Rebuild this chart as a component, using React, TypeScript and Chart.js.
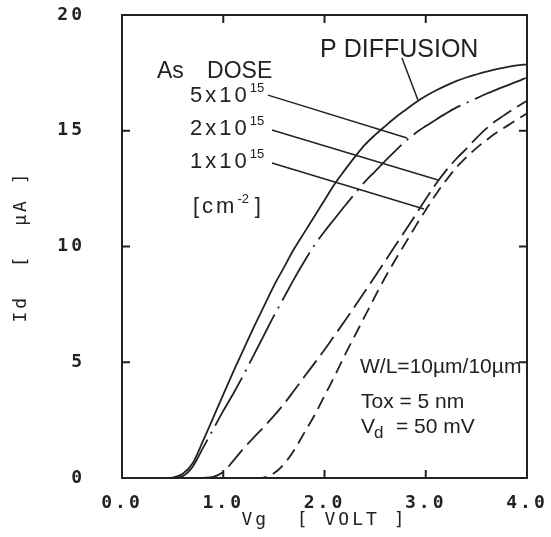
import { useEffect, useRef } from 'react';
import { Chart, registerables } from 'chart.js';

Chart.register(...registerables);

// ---- data ----
const VG = [
  0.4, 0.5, 0.6, 0.7, 0.8, 0.9, 1.0, 1.1, 1.2, 1.3, 1.4, 1.5, 1.6, 1.7, 1.8, 1.9,
  2.0, 2.1, 2.2, 2.3, 2.4, 2.5, 2.6, 2.7, 2.8, 2.9, 3.0, 3.1, 3.2, 3.3, 3.4, 3.5,
  3.6, 3.7, 3.8, 3.9, 4.0,
];
const ID_P_DIFFUSION = [
  0, 0.02, 0.18, 0.65, 1.6, 2.6, 3.6, 4.6, 5.55, 6.5, 7.4, 8.3, 9.1, 9.9, 10.6, 11.3,
  12.0, 12.7, 13.3, 13.87, 14.4, 14.82, 15.2, 15.57, 15.9, 16.22, 16.5, 16.74, 16.95, 17.14, 17.3, 17.43,
  17.55, 17.66, 17.75, 17.82, 17.87,
];
const ID_AS_5E15 = [
  null, 0, 0.08, 0.5, 1.3, 2.1, 2.9, 3.65, 4.45, 5.3, 6.15, 7.0, 7.8, 8.6, 9.35, 10.05,
  10.65, 11.2, 11.75, 12.28, 12.8, 13.25, 13.7, 14.13, 14.55, 14.9, 15.2, 15.48, 15.75, 16.0, 16.2, 16.4,
  16.6, 16.78, 16.95, 17.12, 17.3,
];
const ID_AS_2E15 = [
  null, null, null, null, 0, 0.05, 0.26, 0.75, 1.27, 1.74, 2.2, 2.68, 3.2, 3.78, 4.37, 4.95,
  5.54, 6.16, 6.78, 7.42, 8.07, 8.72, 9.38, 10.04, 10.7, 11.37, 12.05, 12.7, 13.28, 13.78, 14.22, 14.68,
  15.1, 15.45, 15.75, 16.03, 16.3,
];
const ID_AS_1E15 = [
  null, null, null, null, null, null, null, null, null, 0, 0.02, 0.2, 0.6, 1.2, 1.95, 2.7,
  3.55, 4.4, 5.3, 6.15, 7.0, 7.85, 8.67, 9.43, 10.15, 10.88, 11.58, 12.25, 12.85, 13.4, 13.85, 14.25,
  14.6, 14.92, 15.2, 15.48, 15.75,
];
const X_TICKS = [0, 1, 2, 3, 4];
const Y_TICKS = [0, 5, 10, 15, 20];
const DOSE_BASES = ['5x10', '2x10', '1x10'];
const DOSE_EXP = '15';

const INK = '#222';
const MONO = '"DejaVu Sans Mono", "Liberation Mono", monospace';
const SANS = '"Liberation Sans", Arial, sans-serif';

function pts(ys: (number | null)[]) {
  return VG.map((v, i) => ({ x: v, y: ys[i] }));
}

const plotPlugin = {
  id: 'plotFrame',
  beforeDraw(chart: any) {
    (chart.ctx as any).letterSpacing = '3px';
  },
  afterDraw(chart: any) {
    const { ctx, chartArea: a, scales } = chart;
    const xs = scales.x;
    const ys = scales.y;
    const px = (v: number) => xs.getPixelForValue(v);
    const py = (v: number) => ys.getPixelForValue(v);
    ctx.save();
    (ctx as any).letterSpacing = '0px';
    // frame
    ctx.strokeStyle = INK;
    ctx.lineWidth = 2;
    ctx.strokeRect(a.left, a.top, a.right - a.left, a.bottom - a.top);
    // inward ticks
    const TL = 8;
    ctx.beginPath();
    X_TICKS.slice(1, -1).forEach((t) => {
      const p = px(t);
      ctx.moveTo(p, a.bottom); ctx.lineTo(p, a.bottom - TL);
      ctx.moveTo(p, a.top); ctx.lineTo(p, a.top + TL);
    });
    Y_TICKS.slice(1, -1).forEach((t) => {
      const p = py(t);
      ctx.moveTo(a.left, p); ctx.lineTo(a.left + TL, p);
      ctx.moveTo(a.right, p); ctx.lineTo(a.right - TL, p);
    });
    ctx.stroke();

    // annotations
    ctx.fillStyle = INK;
    ctx.textAlign = 'left';
    ctx.textBaseline = 'alphabetic';
    ctx.lineWidth = 1.5;

    ctx.font = `25px ${SANS}`;
    ctx.fillText('P DIFFUSION', px(1.956), py(18.19));
    ctx.beginPath();
    ctx.moveTo(px(2.765), py(18.14)); ctx.lineTo(px(2.923), py(16.33));
    ctx.stroke();

    ctx.font = `23px ${SANS}`;
    ctx.fillText('As', px(0.346), py(17.28));
    ctx.fillText('DOSE', px(0.84), py(17.28));

    const doseY = [16.24, 14.82, 13.39];
    const pointerFrom = [[1.442, 16.54], [1.481, 15.03], [1.481, 13.61]];
    const pointerTo = [[2.815, 14.69], [3.121, 12.87], [2.983, 11.62]];
    DOSE_BASES.forEach((b, i) => {
      const x0 = px(0.672);
      const y0 = py(doseY[i]);
      ctx.font = `22px ${SANS}`;
      (ctx as any).letterSpacing = '3px';
      ctx.fillText(b, x0, y0);
      const w = ctx.measureText(b).width;
      (ctx as any).letterSpacing = '0px';
      ctx.font = `13px ${SANS}`;
      ctx.fillText(DOSE_EXP, x0 + w, y0 - 10);
      ctx.beginPath();
      ctx.moveTo(px(pointerFrom[i][0]), py(pointerFrom[i][1]));
      ctx.lineTo(px(pointerTo[i][0]), py(pointerTo[i][1]));
      ctx.stroke();
    });

    // [cm-2]
    {
      const x0 = px(0.701);
      const y0 = py(11.45);
      ctx.font = `22px ${SANS}`;
      (ctx as any).letterSpacing = '3px';
      ctx.fillText('[cm', x0, y0);
      const w = ctx.measureText('[cm').width;
      (ctx as any).letterSpacing = '0px';
      ctx.font = `13px ${SANS}`;
      ctx.fillText('-2', x0 + w, y0 - 10);
      ctx.font = `22px ${SANS}`;
      ctx.fillText(']', px(1.312), y0);
    }

    // device parameters
    ctx.font = `21px ${SANS}`;
    ctx.fillText('W/L=10µm/10µm', px(2.351), py(4.54));
    ctx.fillText('Tox = 5 nm', px(2.36), py(3.02));
    ctx.fillText('V', px(2.36), py(1.94));
    ctx.font = `17px ${SANS}`;
    ctx.fillText('d', px(2.49), py(1.94) + 5);
    ctx.font = `21px ${SANS}`;
    ctx.fillText('= 50 mV', px(2.706), py(1.94));
    ctx.restore();
  },
};

export default function App() {
  const ref = useRef<HTMLCanvasElement>(null);
  useEffect(() => {
    document.body.style.margin = '0';
    const line = (data: (number | null)[], dash: number[]) => ({
      data: pts(data),
      borderColor: INK,
      borderWidth: 1.8,
      borderDash: dash,
      pointRadius: 0,
      fill: false,
      cubicInterpolationMode: 'monotone' as const,
      spanGaps: false,
    });
    const chart = new Chart(ref.current!, {
      type: 'line',
      data: {
        datasets: [
          { label: 'P DIFFUSION', ...line(ID_P_DIFFUSION, []) },
          { label: '5x10^15', ...line(ID_AS_5E15, [55, 7, 2, 7]) },
          { label: '2x10^15', ...line(ID_AS_2E15, [22, 7]) },
          { label: '1x10^15', ...line(ID_AS_1E15, [13, 7]) },
        ],
      },
      options: {
        animation: false,
        responsive: false,
        devicePixelRatio: 1,
        layout: { padding: { left: 0, right: 24, top: 15, bottom: 0 } },
        plugins: { legend: { display: false }, tooltip: { enabled: false } },
        scales: {
          x: {
            type: 'linear',
            min: 0,
            max: 4,
            afterFit: (s: any) => {
              s.height = 59;
              s.paddingLeft = 0; s.paddingRight = 0; s.paddingTop = 0; s.paddingBottom = 0;
            },
            grid: { display: false },
            border: { display: false },
            afterBuildTicks: (s: any) => { s.ticks = X_TICKS.map((v) => ({ value: v })); },
            ticks: {
              callback: (v: any) => Number(v).toFixed(1),
              font: { family: MONO, size: 18, weight: 'bold' },
              color: INK,
              padding: 7,
              maxRotation: 0,
              autoSkip: false,
            },
            title: {
              display: true,
              text: 'Vg  [ VOLT ]',
              font: { family: MONO, size: 18 },
              color: INK,
              padding: { top: 0, bottom: 6 },
            },
          },
          y: {
            type: 'linear',
            min: 0,
            max: 20,
            afterFit: (s: any) => {
              s.width = 122;
              s.paddingLeft = 0; s.paddingRight = 0; s.paddingTop = 0; s.paddingBottom = 0;
            },
            grid: { display: false },
            border: { display: false },
            afterBuildTicks: (s: any) => { s.ticks = Y_TICKS.map((v) => ({ value: v })); },
            ticks: {
              callback: (v: any) => String(v),
              font: { family: MONO, size: 18, weight: 'bold' },
              color: INK,
              padding: 29,
              autoSkip: false,
            },
            title: {
              display: true,
              text: 'Id  [  µA ]',
              font: { family: MONO, size: 18 },
              color: INK,
              padding: { top: 11, bottom: 0 },
            },
          },
        },
      },
      plugins: [plotPlugin],
    });
    return () => chart.destroy();
  }, []);
  return (
    <canvas ref={ref} width={551} height={537} style={{ display: 'block', width: 551, height: 537 }} />
  );
}
